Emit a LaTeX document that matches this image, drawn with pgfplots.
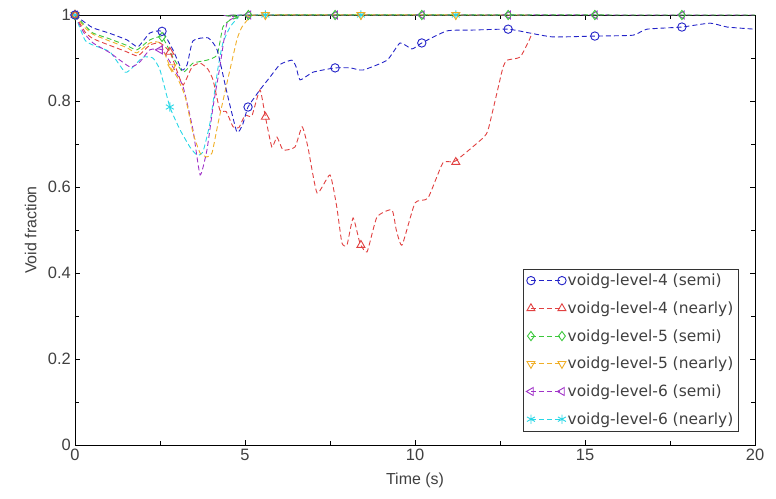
\documentclass[border=0pt]{standalone}
\usepackage{fontspec}
\usepackage{pgfplots}
\pgfplotsset{compat=1.18}
\newfontfamily\legfont{DejaVu Sans}
\newfontfamily\tickfont{Liberation Sans}
\definecolor{cblue}{RGB}{35,35,200}
\definecolor{cred}{RGB}{225,65,65}
\definecolor{cgreen}{RGB}{60,200,60}
\definecolor{corange}{RGB}{240,175,40}
\definecolor{cpurple}{RGB}{160,50,200}
\definecolor{ccyan}{RGB}{40,215,230}
\begin{document}
\begin{tikzpicture}
\begin{axis}[
  name=ax,
  scale only axis,
  width=680bp, height=430bp,
  xmin=0, xmax=20, ymin=0, ymax=1,
  xtick={0,5,10,15,20}, ytick={0,0.2,0.4,0.6,0.8,1},
  minor x tick num=1, minor y tick num=1,
  tick align=inside,
  major tick length=5bp, minor tick length=4bp,
  axis line style={line width=0.8bp},
  tick style={line width=0.6bp, black},
  clip=false,
  /pgf/number format/assume math mode=true,
  tick label style={font=\tickfont\fontsize{16.5}{19}\selectfont, text=black!75},
  xticklabel style={inner sep=3.5bp},
  yticklabel style={inner sep=4bp},
  label style={font=\tickfont\fontsize{16}{19}\selectfont, text=black!75},
  xlabel={Time (s)}, ylabel={Void fraction},
  xlabel style={yshift=-6bp},
  ylabel style={yshift=4bp},
  every axis plot/.append style={line width=0.9bp, dash pattern=on 5bp off 3bp},
  legend style={at={(rel axis cs:1,0)}, anchor=south east, xshift=-17bp, yshift=14bp,
    font=\legfont\fontsize{15.5}{18}\selectfont, text=black!75, draw=black!80, row sep=10.5bp, inner sep=3bp,
    cells={anchor=west}, nodes={inner xsep=1.5bp}},
  legend image code/.code={\draw[mark repeat=1,mark phase=1] plot coordinates {(0bp,0bp) (31bp,0bp)};},
]
% legend images
\addlegendimage{cblue, mark=o, mark size=4.2bp, mark options={solid}}
\addlegendentry{voidg-level-4 (semi)}
\addlegendimage{cred, mark=triangle, mark size=4.6bp, mark options={solid}}
\addlegendentry{voidg-level-4 (nearly)}
\addlegendimage{cgreen, mark=diamond, mark size=4.6bp, mark options={solid}}
\addlegendentry{voidg-level-5 (semi)}
\addlegendimage{corange, mark=triangle, mark size=4.6bp, mark options={solid, rotate=180}}
\addlegendentry{voidg-level-5 (nearly)}
\addlegendimage{cpurple, mark=triangle, mark size=4.6bp, mark options={solid, rotate=90}}
\addlegendentry{voidg-level-6 (semi)}
\addlegendimage{ccyan, mark=asterisk, mark size=4.6bp, mark options={solid}}
\addlegendentry{voidg-level-6 (nearly)}

% level-6 nearly (cyan)
\addplot[ccyan, smooth, tension=0.3, forget plot] coordinates {(0,1) (0.29,0.942) (0.53,0.93) (1.03,0.914) (1.47,0.867) (1.68,0.877) (2.0,0.902) (2.29,0.9) (2.5,0.872) (2.79,0.786) (3.09,0.733) (3.38,0.693) (3.59,0.674) (3.76,0.681) (3.97,0.749) (4.21,0.879) (4.35,0.935) (4.56,0.972) (4.79,0.993) (5.1,1.0) (13.4,1.0)};
% level-6 semi (purple)
\addplot[cpurple, smooth, tension=0.3, forget plot] coordinates {(0,1) (0.25,0.96) (0.53,0.935) (1.03,0.912) (1.62,0.879) (1.91,0.891) (2.2,0.919) (2.56,0.919) (2.88,0.879) (3.18,0.833) (3.47,0.733) (3.68,0.628) (3.88,0.686) (4.06,0.786) (4.26,0.879) (4.47,0.981) (4.76,0.995) (5.06,1.0) (20,1.0)};
% level-5 nearly (orange)
\addplot[corange, smooth, tension=0.3, forget plot] coordinates {(0,1) (0.3,0.97) (0.53,0.955) (1.0,0.94) (1.5,0.925) (1.82,0.912) (2.2,0.935) (2.5,0.935) (2.8,0.879) (3.0,0.856) (3.24,0.81) (3.47,0.726) (3.68,0.679) (3.88,0.67) (4.03,0.679) (4.21,0.749) (4.47,0.842) (4.76,0.942) (4.91,0.972) (5.15,0.995) (5.44,1.0) (13.4,1.0)};
% level-5 semi (green)
\addplot[cgreen, smooth, tension=0.3, forget plot] coordinates {(0,1) (0.3,0.975) (0.53,0.958) (1.0,0.945) (1.5,0.93) (1.82,0.919) (2.2,0.942) (2.56,0.949) (2.88,0.902) (3.18,0.867) (3.47,0.888) (3.88,0.895) (4.18,0.907) (4.35,0.972) (4.56,0.988) (4.85,0.995) (5.1,1.0) (20,1.0)};
% level-4 nearly (red)
\addplot[cred, smooth, tension=0.3, forget plot] coordinates {(0,1.0) (0.3,0.96) (0.53,0.945) (1.0,0.93) (1.5,0.915) (1.85,0.905) (2.2,0.93) (2.5,0.935) (2.79,0.914) (3.0,0.87) (3.18,0.837) (3.44,0.879) (3.68,0.888) (3.9,0.875) (4.06,0.849) (4.26,0.779) (4.45,0.775) (4.65,0.74) (4.82,0.738) (5.0,0.767) (5.2,0.765) (5.44,0.826) (5.6,0.763) (5.79,0.693) (5.94,0.716) (6.12,0.686) (6.47,0.693) (6.68,0.74) (6.85,0.693) (7.12,0.586) (7.5,0.628) (7.7,0.553) (7.85,0.47) (8.0,0.465) (8.18,0.528) (8.38,0.47) (8.59,0.449) (8.88,0.53) (9.32,0.547) (9.45,0.5) (9.62,0.465) (10.0,0.563) (10.38,0.574) (10.82,0.656) (11.18,0.66) (12.0,0.714) (12.15,0.733) (12.41,0.819) (12.59,0.879) (12.71,0.895) (13.09,0.902) (13.35,0.94) (13.44,0.958)};
% level-4 semi (blue)
\addplot[cblue, smooth, tension=0.3, forget plot] coordinates {(0,1.0) (0.25,0.985) (0.53,0.97) (1.0,0.958) (1.53,0.942) (1.85,0.926) (2.2,0.958) (2.56,0.962) (2.88,0.919) (3.15,0.872) (3.3,0.885) (3.47,0.94) (3.91,0.947) (4.18,0.919) (4.47,0.819) (4.76,0.728) (4.93,0.745) (5.09,0.786) (5.44,0.826) (5.74,0.856) (6.03,0.885) (6.38,0.895) (6.5,0.88) (6.62,0.849) (7.0,0.867) (7.65,0.877) (8.1,0.877) (8.47,0.872) (9.18,0.895) (9.56,0.935) (9.91,0.921) (10.2,0.935) (10.94,0.963) (11.7,0.965) (12.74,0.967) (13.38,0.958) (14.06,0.949) (15.29,0.951) (16.41,0.953) (16.82,0.967) (17.85,0.972) (18.68,0.981) (19.18,0.972) (20,0.967)};

% markers
\addplot[only marks, solid, ccyan, mark=asterisk, mark size=4.6bp, forget plot] coordinates {(0,1) (2.79,0.786) (5.6,1) (8.41,1) (11.2,1)};
\addplot[only marks, solid, cpurple, mark=triangle, mark size=4.6bp, mark options={rotate=90}, forget plot] coordinates {(0,1) (2.5,0.919) (5.1,1) (7.65,1) (10.2,1) (12.74,1) (15.29,1) (17.85,1)};
\addplot[only marks, solid, corange, mark=triangle, mark size=4.6bp, mark options={rotate=180}, forget plot] coordinates {(0,1) (2.85,0.879) (5.6,1) (8.41,1) (11.2,1)};
\addplot[only marks, solid, cgreen, mark=diamond, mark size=4.6bp, forget plot] coordinates {(0,1) (2.56,0.949) (5.1,1) (7.65,1) (10.2,1) (12.74,1) (15.29,1) (17.85,1)};
\addplot[only marks, solid, cred, mark=triangle, mark size=4.6bp, forget plot] coordinates {(0,1) (2.79,0.914) (5.6,0.763) (8.41,0.465) (11.2,0.658)};
\addplot[only marks, solid, cblue, mark=o, mark size=4.2bp, forget plot] coordinates {(0,1) (2.56,0.962) (5.09,0.786) (7.65,0.877) (10.2,0.935) (12.74,0.967) (15.29,0.951) (17.85,0.972)};
\end{axis}
\path[use as bounding box] ([shift={(-75bp,-54bp)}]ax.south west) rectangle ([shift={(21bp,15bp)}]ax.north east);
\end{tikzpicture}
\end{document}
